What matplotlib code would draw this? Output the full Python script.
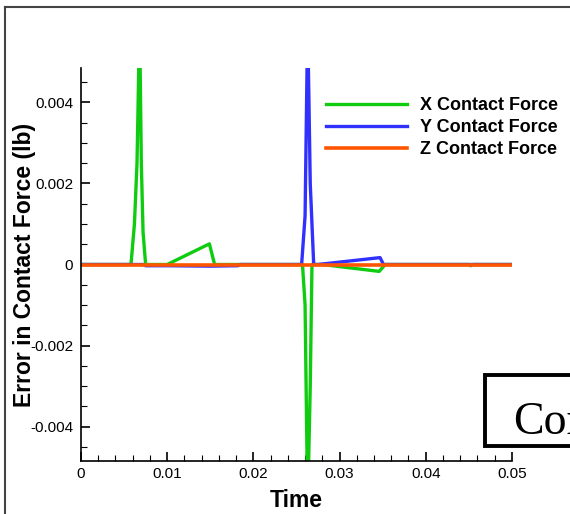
import matplotlib
matplotlib.use('Agg')
import matplotlib.pyplot as plt
from matplotlib.lines import Line2D
from matplotlib.patches import Rectangle

plt.rcParams['font.family'] = ['Liberation Sans', 'DejaVu Sans']

# error in contact force
x_time = [0, 0.0058, 0.0062, 0.0065, 0.0068, 0.0070, 0.0072, 0.0075, 0.0100, 0.0149, 0.0155,
          0.0257, 0.0260, 0.0263, 0.0266, 0.0268, 0.0280, 0.0346, 0.0353, 0.0450, 0.0452, 0.0455, 0.0500]
x_force = [0, 0, 0.0010, 0.0025, 0.0060, 0.0025, 0.0008, 0, 0, 0.00051, 0,
           0, -0.0010, -0.0060, -0.0030, 0, 0, -0.00017, 0, 0, -0.00003, 0, 0]

y_time = [0, 0.0072, 0.0075, 0.0100, 0.0150, 0.0182, 0.0185, 0.0256, 0.0260, 0.0263, 0.0266, 0.0270,
          0.0275, 0.0347, 0.0351, 0.0500]
y_force = [0, 0, -0.00003, -0.00003, -0.00004, -0.00003, 0, 0, 0.0012, 0.0060, 0.0020, 0,
           0, 0.00017, 0, 0]

z_time = [0, 0.0500]
z_force = [0, 0]

labels = ['X Contact Force', 'Y Contact Force', 'Z Contact Force']
colors = ['#10cc10', '#3030ff', '#ff5500']
xticks = [0, 0.01, 0.02, 0.03, 0.04, 0.05]
xtick_labels = ['0', '0.01', '0.02', '0.03', '0.04', '0.05']
yticks = [-0.004, -0.002, 0, 0.002, 0.004]
ytick_labels = ['-0.004', '-0.002', '0', '0.002', '0.004']

fig = plt.figure(figsize=(5.7, 5.14), dpi=100)
ax = fig.add_axes([0.1421, 0.1031, 0.756, 0.7646])

ax.plot(x_time, x_force, color=colors[0], lw=2.4, label=labels[0])
ax.plot(y_time, y_force, color=colors[1], lw=2.4, label=labels[1])
ax.plot(z_time, z_force, color=colors[2], lw=2.6, label=labels[2])

ax.set_xlim(0, 0.05)
ax.set_ylim(-0.00485, 0.00485)
ax.spines['top'].set_visible(False)
ax.spines['right'].set_visible(False)
ax.set_xticks(xticks)
ax.set_xticklabels(xtick_labels)
ax.set_yticks(yticks)
ax.set_yticklabels(ytick_labels)
ax.set_xticks([t / 1000 for t in range(0, 51, 2)], minor=True)
ax.set_yticks([t / 10000 for t in range(-45, 46, 5)], minor=True)
ax.tick_params(which='both', direction='in', labelsize=11)
ax.tick_params(which='major', length=6.5, width=1.2)
ax.tick_params(which='minor', length=4, width=0.8)
ax.tick_params(axis='y', which='major', pad=5.5)
ax.tick_params(axis='x', which='major', pad=4)
for s in ['left', 'bottom']:
    ax.spines[s].set_linewidth(1.2)

ax.set_xlabel('Time', fontsize=16.5, fontweight='bold', labelpad=6)
ax.set_ylabel('Error in Contact Force (lb)', fontsize=16.5, fontweight='bold', labelpad=-4)

leg = ax.legend(loc='upper left', bbox_to_anchor=(0.5684, 0.925), frameon=False,
                borderpad=0, borderaxespad=0, handlelength=4.5, handletextpad=0.72,
                prop={'weight': 'bold', 'size': 13}, labelspacing=0.26)

# outer frame of the page
fig.add_artist(Line2D([5 / 570, 1], [1 - 7 / 514, 1 - 7 / 514], color='#444444', lw=1.5))
fig.add_artist(Line2D([5 / 570, 5 / 570], [0, 1 - 7 / 514], color='#444444', lw=1.5))

# caption box cut off at the right edge
fig.add_artist(Rectangle((485 / 570, 1 - 446 / 514), 0.3, 71 / 514, transform=fig.transFigure,
                         fc='white', ec='black', lw=2.8, clip_on=False))
fig.text(513 / 570, 1 - 434 / 514, 'Con', family='Liberation Serif', fontsize=33,
         va='baseline', ha='left')

fig.savefig('out.png', dpi=100)
